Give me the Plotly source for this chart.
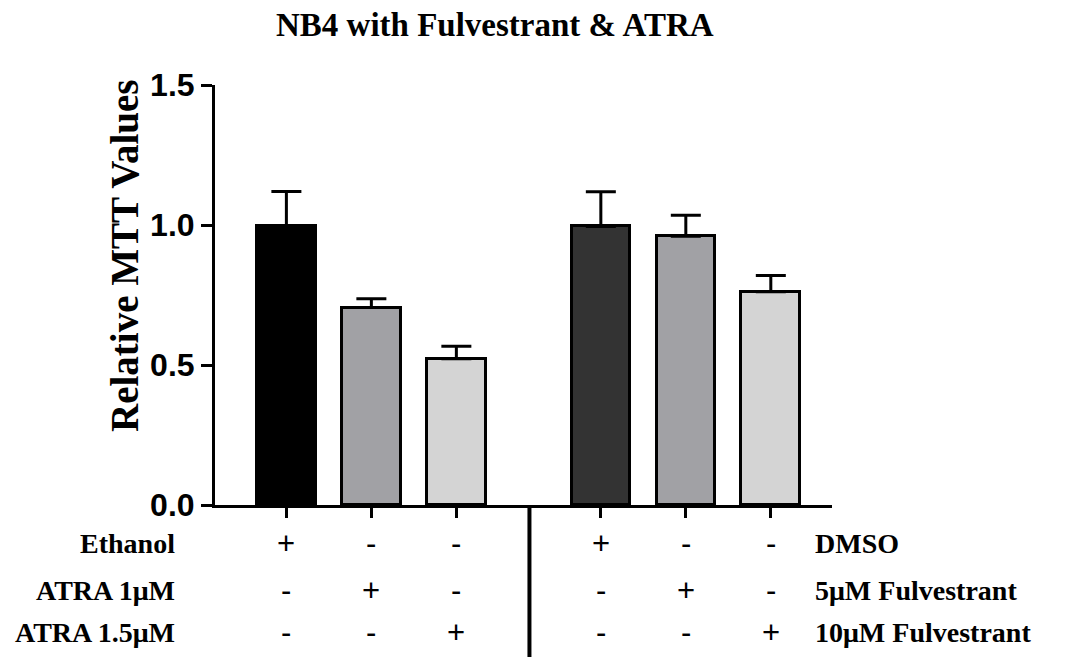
import plotly.graph_objects as go

# ---- data ----
groups = ["Ethanol", "ATRA 1µM", "ATRA 1.5µM", "DMSO", "5µM Fulvestrant", "10µM Fulvestrant"]
positions = [0, 1, 2, 3.7, 4.7, 5.7]
values = [0.995, 0.705, 0.522, 0.995, 0.96, 0.762]
errors = [0.125, 0.032, 0.045, 0.124, 0.075, 0.058]
bar_colors = ["#000000", "#a1a1a5", "#d4d4d4", "#333333", "#a1a1a5", "#d4d4d4"]

left_labels = ["Ethanol", "ATRA 1\u03bcM", "ATRA 1.5\u03bcM"]
right_labels = ["DMSO", "5\u03bcM Fulvestrant", "10\u03bcM Fulvestrant"]
left_signs = [["+", "-", "-"], ["-", "+", "-"], ["-", "-", "+"]]
right_signs = [["+", "-", "-"], ["-", "+", "-"], ["-", "-", "+"]]

y_ticks = [0.0, 0.5, 1.0, 1.5]
title = "NB4 with Fulvestrant & ATRA"
y_title = "Relative MTT Values"

# ---- layout geometry ----
W, H = 1068, 657
ml, mr, mt, mb = 215, 236, 85, 152
pw = W - ml - mr
ph = H - mt - mb

def py(pix):  # pixel y -> paper y
    return (H - mb - pix) / ph

def px(pix):  # pixel x -> paper x
    return (pix - ml) / pw

serif = "Liberation Serif"
sans = "Liberation Sans"

fig = go.Figure()
fig.add_trace(go.Bar(
    x=positions, y=values, width=0.69,
    marker=dict(color=bar_colors, line=dict(color="#000000", width=3)),
    error_y=dict(type="data", array=errors, arrayminus=[0] * len(errors),
                 symmetric=False, color="#000000", thickness=3, width=15),
    showlegend=False, hoverinfo="skip",
))

annotations = []
annotations.append(dict(text=title, x=px(495), y=py(25), xref="paper", yref="paper",
                        showarrow=False, xanchor="center", yanchor="middle",
                        font=dict(family=serif, size=33, color="#000", weight="bold")))
annotations.append(dict(text=y_title, x=px(124), y=py(256), xref="paper", yref="paper",
                        showarrow=False, xanchor="center", yanchor="middle", textangle=-90,
                        font=dict(family=serif, size=39, color="#000", weight="bold")))

row_y = [543, 590, 632]
for r in range(3):
    annotations.append(dict(text=left_labels[r], x=px(177), y=py(row_y[r]), xref="paper", yref="paper",
                            showarrow=False, xanchor="right", yanchor="middle",
                            font=dict(family=serif, size=28, color="#000", weight="bold")))
    annotations.append(dict(text=right_labels[r], x=px(813), y=py(row_y[r]), xref="paper", yref="paper",
                            showarrow=False, xanchor="left", yanchor="middle",
                            font=dict(family=serif, size=28, color="#000", weight="bold")))
    for c in range(3):
        annotations.append(dict(text=left_signs[r][c], x=positions[c], y=py(row_y[r]), xref="x", yref="paper",
                                showarrow=False, xanchor="center", yanchor="middle",
                                font=dict(family=sans, size=31, color="#000")))
        annotations.append(dict(text=right_signs[r][c], x=positions[3 + c], y=py(row_y[r]), xref="x", yref="paper",
                                showarrow=False, xanchor="center", yanchor="middle",
                                font=dict(family=sans, size=31, color="#000")))

shapes = [dict(type="line", xref="x", yref="paper", x0=2.86, x1=2.86, y0=py(506), y1=py(H + 5),
               line=dict(color="#000", width=4))]

fig.update_layout(
    width=W, height=H,
    margin=dict(l=ml, r=mr, t=mt, b=mb, pad=0),
    paper_bgcolor="white", plot_bgcolor="white",
    annotations=annotations, shapes=shapes,
    xaxis=dict(range=[-0.84, 6.42], showgrid=False, zeroline=False, showline=True,
               linecolor="#000", linewidth=3, ticks="outside", ticklen=10, tickwidth=3,
               tickcolor="#000", tickvals=positions, showticklabels=False),
    yaxis=dict(range=[0, 1.5], showgrid=False, zeroline=False, showline=True,
               linecolor="#000", linewidth=3, ticks="outside", ticklen=11, tickwidth=3,
               tickcolor="#000", tickvals=y_ticks, ticktext=[f"{v:.1f}" for v in y_ticks],
               tickfont=dict(family=sans, size=32, color="#000", weight="bold")),
    bargap=0,
)

fig.write_html("out.html")
